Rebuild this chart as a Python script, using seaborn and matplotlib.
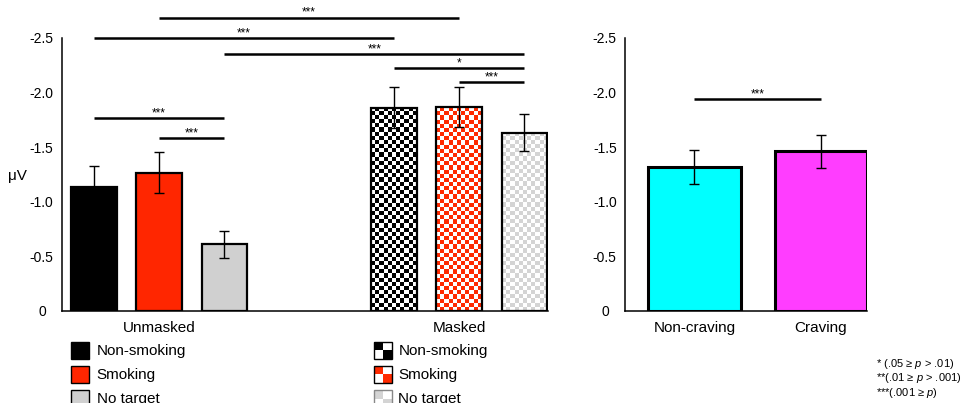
import numpy as np
import pandas as pd
import matplotlib
matplotlib.use("Agg")
import matplotlib.pyplot as plt
from matplotlib.patches import Rectangle
import seaborn as sns

# ---------------- data ----------------
groups = ["Unmasked", "Masked"]
targets = ["Non-smoking", "Smoking", "No target"]
unmasked_means = [-1.13, -1.265, -0.61]
unmasked_sems = [0.20, 0.19, 0.125]
masked_means = [-1.86, -1.865, -1.63]
masked_sems = [0.19, 0.18, 0.17]

craving_labels = ["Non-craving", "Craving"]
craving_means = [-1.317, -1.46]
craving_sems = [0.154, 0.152]

ytick_values = [0, -0.5, -1.0, -1.5, -2.0, -2.5]
ytick_labels = ["0", "-0.5", "-1.0", "-1.5", "-2.0", "-2.5"]
y_label = "μV"

# significance comparisons: (bar a, bar b, level, stars)
left_sig = [(1, 4, -2.684, "***"), (0, 3, -2.495, "***"), (2, 5, -2.351, "***"),
            (3, 5, -2.223, "*"), (4, 5, -2.094, "***"), (0, 2, -1.762, "***"),
            (1, 2, -1.584, "***")]
right_sig = [(0, 1, -1.94, "***")]

footnotes = ["* (.05 ≥ $\\mathit{p}$ > .01)",
             "**(.01 ≥ $\\mathit{p}$ > .001)",
             "***(.001 ≥ $\\mathit{p}$)"]

# ---------------- style ----------------
sns.set_theme(style="white")
plt.rcParams["font.family"] = ["Liberation Sans", "DejaVu Sans"]
plt.rcParams["mathtext.fontset"] = "custom"
plt.rcParams["mathtext.rm"] = "Liberation Sans"
plt.rcParams["mathtext.it"] = "Liberation Sans:italic"
plt.rcParams["axes.edgecolor"] = "black"
plt.rcParams["text.color"] = "black"
plt.rcParams["xtick.color"] = "black"
plt.rcParams["ytick.color"] = "black"

W, H = 963, 403
fig = plt.figure(figsize=(W / 100, H / 100), dpi=100)

def fx(px):
    return px / W

def fy(py):
    return 1 - py / H

target_colors = {"Non-smoking": "#000000", "Smoking": "#ff2600", "No target": "#d0d0d0"}
checker_colors = {"Non-smoking": "#000000", "Smoking": "#ff2a00", "No target": "#d4d4d4"}

ax_top, ax_bot = 37.7, 311.0
ax1 = fig.add_axes([fx(61.7), fy(ax_bot), fx(548 - 61.7), (ax_bot - ax_top) / H])
ax2 = fig.add_axes([fx(625), fy(ax_bot), fx(867 - 625), (ax_bot - ax_top) / H])

# ---------------- left panel ----------------
group_gap = 2.59
rows = []
for gi, (g, means, sems) in enumerate(zip(groups, [unmasked_means, masked_means],
                                          [unmasked_sems, masked_sems])):
    for ti, t in enumerate(targets):
        rows.append({"condition": f"{g} {t}", "group": g, "target": t,
                     "mean": means[ti], "sem": sems[ti],
                     "pos": gi * (len(targets) - 1 + group_gap) + ti})
df_left = pd.DataFrame(rows)
palette_left = {}
for _, r in df_left.iterrows():
    palette_left[r["condition"]] = (target_colors if r["group"] == "Unmasked"
                                    else checker_colors)[r["target"]]

sns.barplot(data=df_left, x="pos", y="mean", hue="condition",
            hue_order=list(df_left["condition"]), palette=palette_left,
            native_scale=True, dodge=False, width=0.7, saturation=1,
            errorbar=None, legend=False, edgecolor="black", linewidth=1.6, ax=ax1)
ax1.errorbar(df_left["pos"], df_left["mean"], yerr=df_left["sem"], fmt="none",
             ecolor="black", elinewidth=1.0, capsize=3.3, capthick=1.0, zorder=4)

ax1.set_xlim(-0.49, 6.95)
ax1.set_ylim(0, -2.5)

# ---------------- right panel ----------------
df_right = pd.DataFrame({"label": craving_labels, "mean": craving_means, "sem": craving_sems})
sns.barplot(data=df_right, x="label", y="mean", hue="label", order=craving_labels,
            hue_order=craving_labels, palette=["#00ffff", "#ff3dff"], width=0.73,
            saturation=1, errorbar=None, legend=False, edgecolor="black",
            linewidth=2.2, ax=ax2)
ax2.errorbar(np.arange(len(craving_labels)), df_right["mean"], yerr=df_right["sem"],
             fmt="none", ecolor="black", elinewidth=1.0, capsize=3.3, capthick=1.0,
             zorder=4)
ax2.set_xlim(-0.55, 1.367)
ax2.set_ylim(0, -2.5)

# ---------------- axes styling ----------------
for ax in (ax1, ax2):
    sns.despine(ax=ax)
    ax.spines["left"].set_linewidth(1.1)
    ax.spines["bottom"].set_linewidth(1.1)
    ax.set_xlabel("")
    ax.set_ylabel("")
    ax.set_yticks(ytick_values, ytick_labels)
    ax.tick_params(axis="y", length=5, width=1.1, pad=1.0, labelsize=10, direction="out")
    ax.tick_params(axis="x", length=0, pad=7, labelsize=11)
    for tick, val in zip(ax.yaxis.get_major_ticks(), ytick_values):
        if val != 0:
            tick.tick1line.set_visible(False)
        else:
            tick.set_pad(6.0)

mid_pos = [df_left[df_left["group"] == g]["pos"].iloc[1] for g in groups]
ax1.set_xticks(mid_pos, groups)
ax2.set_xticks(range(len(craving_labels)), craving_labels)

fig.text(fx(17), fy(176), y_label, ha="center", va="center", fontsize=11)

# ---------------- checker texture for masked bars ----------------
patches = sorted(ax1.patches, key=lambda p: p.get_x())
p0 = ax1.transData.transform((0, 0))
p1 = ax1.transData.transform((1, -1))
px_x = abs(p1[0] - p0[0])
px_y = abs(p1[1] - p0[1])
n_cols = 11
for patch, (_, r) in zip(patches, df_left.iterrows()):
    if r["group"] != "Masked":
        continue
    x0, w = patch.get_x(), patch.get_width()
    h = patch.get_height()
    cell_px = w * px_x / n_cols
    cell_y = cell_px / px_y
    nrows = int(np.ceil(abs(h) / cell_y)) + 1
    arr = (np.add.outer(np.arange(nrows), np.arange(n_cols)) % 2).astype(float)
    col = np.array(matplotlib.colors.to_rgb(checker_colors[r["target"]]))
    img = np.where(arr[..., None] > 0.5, col, np.array([1.0, 1.0, 1.0]))
    im = ax1.imshow(img, extent=(x0, x0 + w, 0, -nrows * cell_y), origin="lower",
                    aspect="auto", interpolation="nearest", zorder=1.5)
    im.set_clip_path(patch)
    patch.set_facecolor("none")
    patch.set_zorder(2)

ax1.set_xlim(-0.49, 6.95)
ax1.set_ylim(0, -2.5)

# ---------------- significance lines ----------------
def draw_sig(ax, xs, sig):
    for a, b, lvl, stars in sig:
        ax.plot([xs[a], xs[b]], [lvl, lvl], color="black", lw=1.8, clip_on=False,
                solid_capstyle="butt", zorder=5)
        ax.annotate(stars, xy=((xs[a] + xs[b]) / 2, lvl), xytext=(0, 1.2),
                    textcoords="offset points", ha="center", va="baseline",
                    fontsize=8.5, annotation_clip=False)

draw_sig(ax1, list(df_left["pos"]), left_sig)
draw_sig(ax2, [0, 1], right_sig)

# ---------------- legend ----------------
row_y = [350, 374.3, 398.5]
sq_w, sq_h = 18, 17
for col_x, text_x, gname in [(71.4, 96.5, "Unmasked"), (373.5, 398.3, "Masked")]:
    for ry, t in zip(row_y, targets):
        top = ry - sq_h / 2
        if gname == "Unmasked":
            fig.add_artist(Rectangle((fx(col_x), fy(top + sq_h)), sq_w / W, sq_h / H,
                                     transform=fig.transFigure,
                                     facecolor=target_colors[t], edgecolor="black", lw=1.0))
        else:
            c = checker_colors[t]
            for i in range(2):
                for j in range(2):
                    fc = c if (i + j) % 2 == 0 else "white"
                    fig.add_artist(Rectangle((fx(col_x + j * sq_w / 2),
                                              fy(top + (i + 1) * sq_h / 2)),
                                             sq_w / 2 / W, sq_h / 2 / H,
                                             transform=fig.transFigure,
                                             facecolor=fc, edgecolor="none"))
            fig.add_artist(Rectangle((fx(col_x), fy(top + sq_h)), sq_w / W, sq_h / H,
                                     transform=fig.transFigure, facecolor="none",
                                     edgecolor="black" if t != "No target" else "#888888",
                                     lw=1.0))
        fig.text(fx(text_x), fy(ry + 1), t, ha="left", va="center", fontsize=11)

# ---------------- footnote ----------------
fig.text(fx(876), fy(378.3), "\n".join(footnotes), ha="left", va="center",
         fontsize=8.0, linespacing=1.05)

fig.savefig("out.png", dpi=100)
